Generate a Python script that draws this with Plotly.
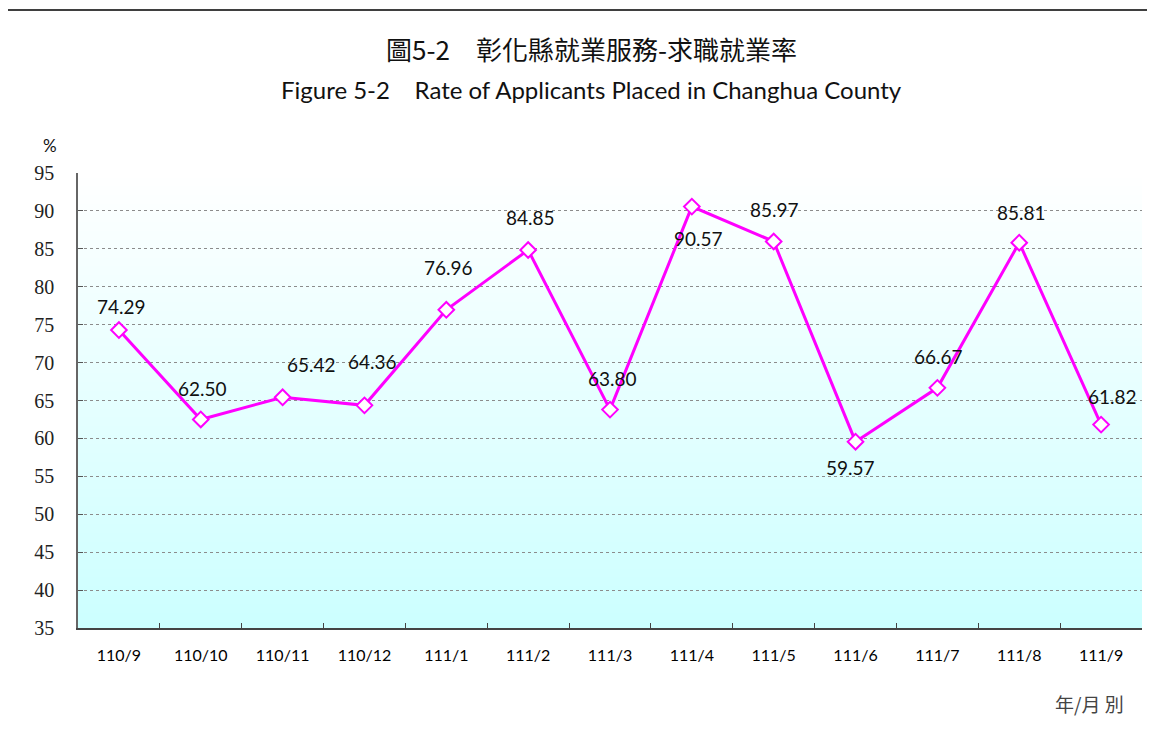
import base64
import struct
import zlib

import plotly.graph_objects as go

# ---- data ----
months = ["110/9", "110/10", "110/11", "110/12", "111/1", "111/2", "111/3",
          "111/4", "111/5", "111/6", "111/7", "111/8", "111/9"]
rates = [74.29, 62.50, 65.42, 64.36, 76.96, 84.85, 63.80,
         90.57, 85.97, 59.57, 66.67, 85.81, 61.82]
y_ticks = [35, 40, 45, 50, 55, 60, 65, 70, 75, 80, 85, 90, 95]

# label offsets in pixels (style only)
label_dx = [3, 2, 29, 8, 2, 2, 2, 7, 1, -5, 1, 2, 11]
label_dy = [24, 31, 33, 44, 42, 32, 31, -32, 32, -26, 31, 30, 28]

# page body has an 8px margin; figure sized so the page does not overflow
OFF = 8
W, H = 1155 - OFF, 734 - OFF
PLOT_X0, PLOT_X1, PLOT_Y0, PLOT_Y1 = 78, 1142, 173, 628   # target screen pixels
L, T = PLOT_X0 - OFF, PLOT_Y0 - OFF
R, B = W - (PLOT_X1 - OFF), H - (PLOT_Y1 - OFF)
PW, PH = PLOT_X1 - PLOT_X0, PLOT_Y1 - PLOT_Y0


def px_x(px):
    return (px - PLOT_X0) / PW


def px_y(py):
    return (PLOT_Y1 - py) / PH


def gradient_png(h=256, top=(255, 255, 255), bottom=(204, 255, 255)):
    rows = bytearray()
    for i in range(h):
        t = i / (h - 1)
        rows += b"\x00" + bytes([round(top[k] + (bottom[k] - top[k]) * t) for k in range(3)])

    def chunk(tag, data):
        return (struct.pack(">I", len(data)) + tag + data +
                struct.pack(">I", zlib.crc32(tag + data) & 0xFFFFFFFF))

    ihdr = struct.pack(">IIBBBBB", 1, h, 8, 2, 0, 0, 0)
    png = (b"\x89PNG\r\n\x1a\n" + chunk(b"IHDR", ihdr) +
           chunk(b"IDAT", zlib.compress(bytes(rows))) + chunk(b"IEND", b""))
    return "data:image/png;base64," + base64.b64encode(png).decode()


fig = go.Figure()
fig.add_trace(go.Scatter(
    x=months, y=rates, mode="lines+markers",
    line=dict(color="#FF00FF", width=3),
    marker=dict(symbol="diamond", size=12, color="white",
                line=dict(color="#FF00FF", width=2)),
    hoverinfo="x+y", showlegend=False, cliponaxis=False,
))

annotations = []
for m, v, dx, dy in zip(months, rates, label_dx, label_dy):
    annotations.append(dict(
        x=m, y=v, xref="x", yref="y", text=f"{v:.2f}", showarrow=False,
        xshift=dx, yshift=dy, xanchor="center", yanchor="middle",
        font=dict(family="Lato", size=19, color="#111111"),
    ))

annotations += [
    dict(x=px_x(591), y=px_y(48), xref="paper", yref="paper",
         text="圖5-2\u3000彰化縣就業服務-求職就業率", showarrow=False,
         xanchor="center", yanchor="middle",
         font=dict(family="Noto Sans CJK TC", size=26, color="#111111")),
    dict(x=px_x(591), y=px_y(90), xref="paper", yref="paper",
         text="Figure 5-2\u00a0\u00a0\u00a0\u00a0Rate of Applicants Placed in Changhua County",
         showarrow=False, xanchor="center", yanchor="middle",
         font=dict(family="Lato", size=24, color="#111111")),
    dict(x=px_x(50), y=px_y(145), xref="paper", yref="paper", text="%",
         showarrow=False, xanchor="center", yanchor="middle",
         font=dict(family="Lato", size=17, color="#111111")),
    dict(x=px_x(1089), y=px_y(703), xref="paper", yref="paper", text="年/月 別",
         showarrow=False, xanchor="center", yanchor="middle",
         font=dict(family="Noto Sans CJK TC", size=19, color="#444444")),
]

fig.update_layout(
    width=W, height=H,
    margin=dict(l=L, r=R, t=T, b=B, pad=0),
    paper_bgcolor="white",
    plot_bgcolor="rgba(0,0,0,0)",
    annotations=annotations,
    images=[dict(source=gradient_png(), xref="paper", yref="paper",
                 x=0, y=1, sizex=1, sizey=1, xanchor="left", yanchor="top",
                 sizing="stretch", layer="below")],
    shapes=[dict(type="rect", xref="paper", yref="paper",
                 x0=px_x(7), x1=px_x(1165), y0=px_y(745), y1=px_y(10),
                 line=dict(color="black", width=1.5), fillcolor="rgba(0,0,0,0)",
                 layer="above")],
)

fig.update_xaxes(
    type="category", range=[-0.5, len(months) - 0.5],
    tickson="boundaries", ticks="inside", ticklen=5, tickwidth=1, tickcolor="#444444",
    showline=True, linecolor="#444444", linewidth=2,
    showgrid=False, zeroline=False,
    tickfont=dict(family="Lato", size=16, color="#000000"),
    ticklabelstandoff=12,
)
fig.update_yaxes(
    range=[35, 95], tickvals=y_ticks, ticktext=[str(v) for v in y_ticks],
    ticks="inside", ticklen=5, tickwidth=1, tickcolor="#555555",
    showline=True, linecolor="#666666", linewidth=1.5,
    showgrid=True, gridcolor="#8c8c8c", gridwidth=1, griddash="dot",
    zeroline=False,
    tickfont=dict(family="Liberation Serif", size=20, color="#222222"),
    ticklabelstandoff=18,
)

fig.write_html("out.html")
